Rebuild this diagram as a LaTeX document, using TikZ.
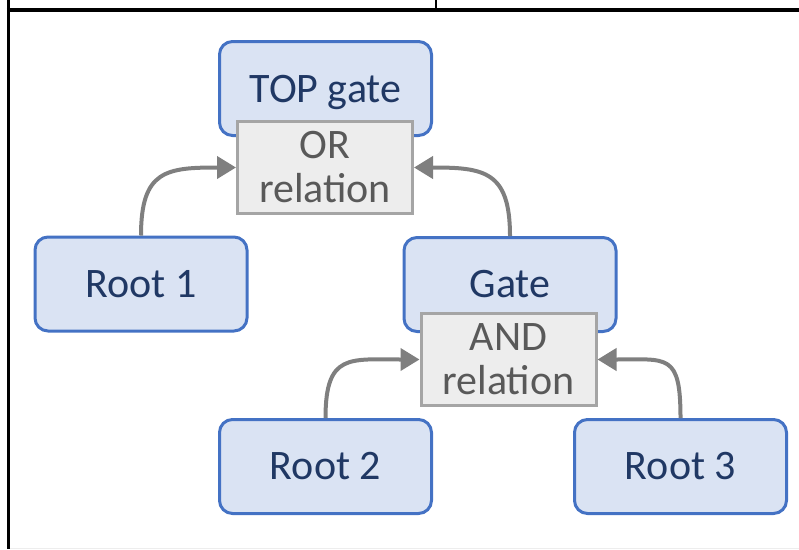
\documentclass[tikz,border=0pt]{standalone}
\usepackage{fontspec}
\setmainfont{Carlito}
\usetikzlibrary{arrows.meta}
\definecolor{gatefill}{HTML}{DAE3F3}
\definecolor{gateline}{HTML}{4472C4}
\definecolor{gatetext}{HTML}{203864}
\definecolor{relfill}{HTML}{EDEDED}
\definecolor{relline}{HTML}{A5A5A5}
\definecolor{reltext}{HTML}{595959}
\definecolor{arrgray}{HTML}{7F7F7F}
\tikzset{
  gatebox/.style={draw=gateline, fill=gatefill, line width=3pt, rounded corners=13pt,
    text=gatetext, minimum width=212pt, minimum height=94pt, inner sep=0pt,
    font=\fontsize{42}{44}\selectfont},
  relbox/.style={draw=relline, fill=relfill, line width=3pt,
    text=reltext, minimum width=175pt, minimum height=92pt, inner sep=0pt, align=center,
    font=\fontsize{42}{44}\selectfont},
  arr/.style={draw=arrgray, line width=4pt, -{Triangle[length=19pt,width=22pt]}},
  frame/.style={draw=black}
}
\begin{document}
\begin{tikzpicture}[x=1pt,y=-1pt]
\useasboundingbox (0,0) rectangle (799,549);
% table rules around the figure cell
\draw[frame, line width=3.5pt] (8.5,0) -- (8.5,549);
\draw[frame, line width=4pt] (6.75,9.5) -- (799,9.5);
\draw[frame, line width=2pt] (436,0) -- (436,9.5);
\draw[black!7, line width=1pt] (10,548) -- (799,548);

% gate and root boxes
\node[gatebox, text depth=0pt] (top) at (325.5,88.5) {TOP gate};
\node[gatebox] (root1) at (141,284) {Root 1};
\node[gatebox] (gate) at (510,284.5) {Gate};
\node[gatebox] (root2) at (325.5,466.5) {Root 2};
\node[gatebox] (root3) at (680.5,466.5) {Root 3};

% relation boxes overlap the lower edge of their gate
\node[relbox] (orrel) at (325,167.5) {OR\\relation};
\node[relbox] (andrel) at (508.5,359.5) {AND\\relation};

% connectors
\draw[arr] (root1.north) .. controls +(0,-65) and +(-70,0) .. (orrel.west);
\draw[arr] (gate.north) .. controls +(0,-65) and +(70,0) .. (orrel.east);
\draw[arr] (root2.north) .. controls +(0,-65) and +(-70,0) .. (andrel.west);
\draw[arr] (root3.north) .. controls +(0,-65) and +(70,0) .. (andrel.east);
\end{tikzpicture}
\end{document}
